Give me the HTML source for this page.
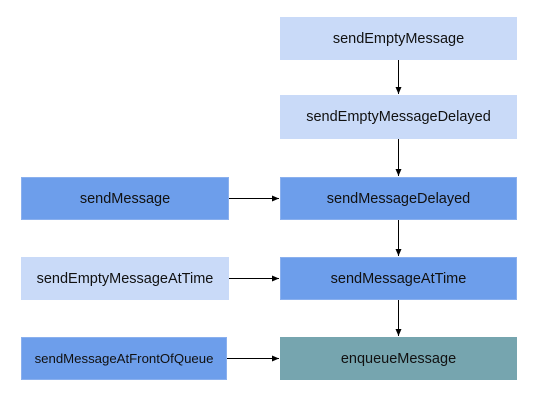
<!DOCTYPE html>
<html><head><style>
body{margin:0;width:554px;height:401px;background:#fff;position:relative;overflow:hidden;font-family:"Liberation Sans",Arial,sans-serif;}
.b{position:absolute;display:flex;align-items:center;justify-content:center;font-size:14.5px;color:#111;box-sizing:border-box;}
.l{background:#c9daf8;}
.d{background:#6d9eeb;border:1px solid #8ab0ee;}
.t{background:#76a5af;}
svg{position:absolute;left:0;top:0;}
</style></head><body>
<div class="b l" style="left:280px;top:17px;width:237px;height:43px">sendEmptyMessage</div>
<div class="b l" style="left:280px;top:95px;width:237px;height:44px">sendEmptyMessageDelayed</div>
<div class="b d" style="left:21px;top:177px;width:208px;height:43px">sendMessage</div>
<div class="b d" style="left:280px;top:177px;width:237px;height:43px">sendMessageDelayed</div>
<div class="b l" style="left:21px;top:257px;width:208px;height:43px">sendEmptyMessageAtTime</div>
<div class="b d" style="left:280px;top:257px;width:237px;height:43px">sendMessageAtTime</div>
<div class="b d" style="left:21px;top:337px;width:206px;height:43px;font-size:13.2px">sendMessageAtFrontOfQueue</div>
<div class="b t" style="left:280px;top:337px;width:237px;height:43px">enqueueMessage</div>
<svg width="554" height="401">
<defs><marker id="a" markerWidth="8" markerHeight="8" refX="7" refY="4" orient="auto" markerUnits="userSpaceOnUse"><path d="M0,1 L7,4 L0,7 z" fill="#000"/></marker></defs>
<g stroke="#000" stroke-width="1" marker-end="url(#a)">
<line x1="398.5" y1="60" x2="398.5" y2="94"/>
<line x1="398.5" y1="139" x2="398.5" y2="176"/>
<line x1="398.5" y1="220" x2="398.5" y2="256"/>
<line x1="398.5" y1="300" x2="398.5" y2="336"/>
<line x1="229" y1="198.5" x2="279" y2="198.5"/>
<line x1="229" y1="278.5" x2="279" y2="278.5"/>
<line x1="227" y1="358.5" x2="279" y2="358.5"/>
</g></svg>
</body></html>
